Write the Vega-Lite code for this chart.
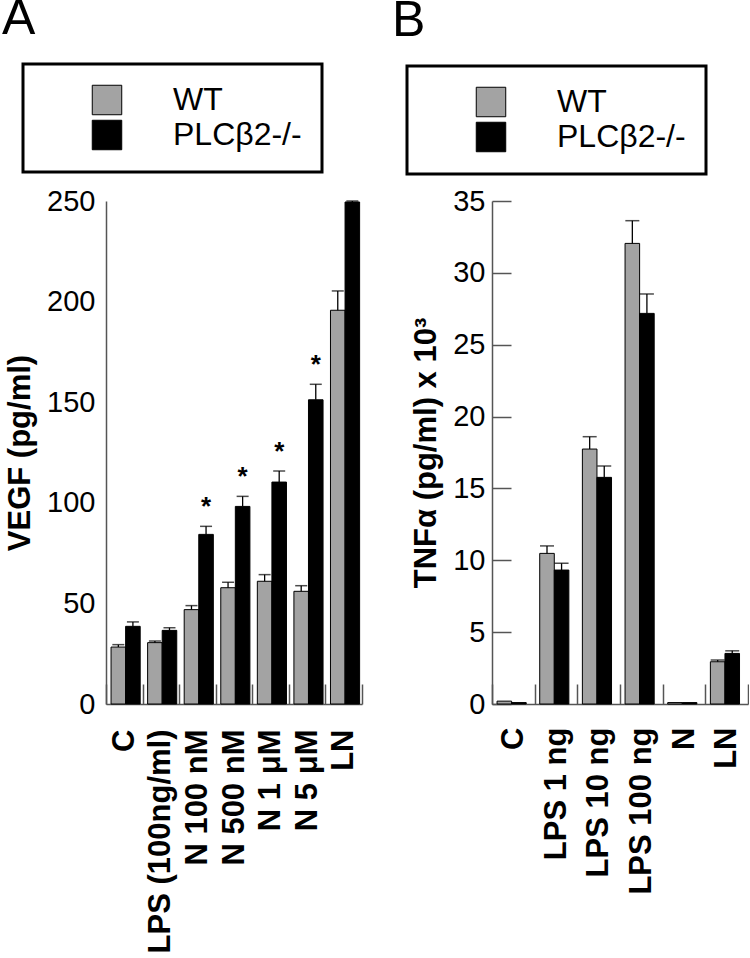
{
  "$schema": "https://vega.github.io/schema/vega-lite/v6.json",
  "background": "white",
  "padding": {"left": 2, "top": -7, "right": 0, "bottom": 0},
  "spacing": 29,
  "config": {
    "font": "Liberation Sans",
    "view": {"stroke": null},
    "axis": {"domainColor": "#555555", "tickColor": "#555555", "labelColor": "black", "titleColor": "black", "grid": false, "labelFont": "Liberation Sans", "titleFont": "Liberation Sans", "domainWidth": 1.5, "tickWidth": 1.5},
    "legend": {"title": null, "symbolType": "square", "symbolSize": 870, "symbolStrokeColor": "black", "symbolStrokeWidth": 1, "labelFontSize": 32, "labelFont": "Liberation Sans", "labelColor": "black", "labelOffset": 50, "symbolOffset": 48, "padding": 20, "rowPadding": 1, "strokeColor": "black", "strokeWidth": 3, "labelLimit": 300},
    "title": {"font": "Liberation Sans", "fontSize": 50, "fontWeight": "normal", "anchor": "start", "frame": "group", "color": "black"}
  },
  "resolve": {"scale": {"color": "independent"}, "legend": {"color": "independent"}},
  "hconcat": [
    {
      "width": 256,
      "height": 503,
      "title": {"text": "A", "dx": -104, "offset": 19},
      "data": {"values": [
        {"treatment": "C", "genotype": "WT", "value": 28.3, "err": 29.5, "sig": false},
        {"treatment": "C", "genotype": "PLCβ2-/-", "value": 38.6, "err": 40.8, "sig": false},
        {"treatment": "LPS (100ng/ml)", "genotype": "WT", "value": 30.5, "err": 31.3, "sig": false},
        {"treatment": "LPS (100ng/ml)", "genotype": "PLCβ2-/-", "value": 36.6, "err": 37.9, "sig": false},
        {"treatment": "N 100 nM", "genotype": "WT", "value": 46.9, "err": 48.9, "sig": false},
        {"treatment": "N 100 nM", "genotype": "PLCβ2-/-", "value": 84.3, "err": 88.3, "sig": true},
        {"treatment": "N 500 nM", "genotype": "WT", "value": 57.8, "err": 60.5, "sig": false},
        {"treatment": "N 500 nM", "genotype": "PLCβ2-/-", "value": 98.2, "err": 103.2, "sig": true},
        {"treatment": "N 1 μM", "genotype": "WT", "value": 61.0, "err": 64.3, "sig": false},
        {"treatment": "N 1 μM", "genotype": "PLCβ2-/-", "value": 110.3, "err": 115.8, "sig": true},
        {"treatment": "N 5 μM", "genotype": "WT", "value": 56.0, "err": 58.8, "sig": false},
        {"treatment": "N 5 μM", "genotype": "PLCβ2-/-", "value": 151.2, "err": 158.9, "sig": true},
        {"treatment": "LN", "genotype": "WT", "value": 195.7, "err": 205.3, "sig": false},
        {"treatment": "LN", "genotype": "PLCβ2-/-", "value": 249.5, "err": 250, "sig": false}
      ]},
      "encoding": {
        "x": {"field": "treatment", "type": "nominal", "sort": ["C", "LPS (100ng/ml)", "N 100 nM", "N 500 nM", "N 1 μM", "N 5 μM", "LN"],
          "scale": {"paddingInner": 0, "paddingOuter": 0},
          "axis": {"title": null, "labelAngle": -90, "labelFontSize": 31, "labelFontWeight": "bold", "labelLimit": 400, "tickSize": -20, "tickBand": "extent", "labelPadding": 45}},
        "xOffset": {"field": "genotype", "type": "nominal", "sort": ["WT", "PLCβ2-/-"], "scale": {"paddingInner": 0, "paddingOuter": 0.255, "align": 0.68}}
      },
      "layer": [
        {
          "mark": {"type": "bar", "stroke": "black", "strokeWidth": 1},
          "encoding": {
            "y": {"field": "value", "type": "quantitative", "scale": {"domain": [0, 250], "nice": false},
              "axis": {"title": "VEGF (pg/ml)", "titleFontSize": 31, "titleFontWeight": "bold", "titlePadding": 10, "values": [0, 50, 100, 150, 200, 250], "ticks": false, "labelFontSize": 29, "labelPadding": 11}},
            "color": {"field": "genotype", "type": "nominal", "sort": ["WT", "PLCβ2-/-"],
              "scale": {"domain": ["WT", "PLCβ2-/-"], "range": ["#a3a3a3", "#000000"]},
              "legend": {"orient": "none", "legendX": -83, "legendY": -137}}
          }
        },
        {
          "mark": {"type": "rule", "color": "black", "strokeWidth": 1.3},
          "encoding": {"y": {"field": "value", "type": "quantitative"}, "y2": {"field": "err"}}
        },
        {
          "mark": {"type": "tick", "color": "black", "thickness": 1.5, "size": 12},
          "encoding": {"y": {"field": "err", "type": "quantitative"}}
        },
        {
          "transform": [{"filter": "datum.sig"}],
          "mark": {"type": "text", "text": "*", "fontSize": 26, "fontWeight": "bold", "baseline": "alphabetic", "dy": -11, "color": "black"},
          "encoding": {"y": {"field": "err", "type": "quantitative"}}
        }
      ]
    },
    {
      "width": 256,
      "height": 503,
      "title": {"text": "B", "dx": -100, "offset": 19},
      "data": {"values": [
        {"treatment": "C", "genotype": "WT", "value": 0.2, "err": null},
        {"treatment": "C", "genotype": "PLCβ2-/-", "value": 0.1, "err": null},
        {"treatment": "LPS 1 ng", "genotype": "WT", "value": 10.48, "err": 11.0},
        {"treatment": "LPS 1 ng", "genotype": "PLCβ2-/-", "value": 9.32, "err": 9.79},
        {"treatment": "LPS 10 ng", "genotype": "WT", "value": 17.74, "err": 18.6},
        {"treatment": "LPS 10 ng", "genotype": "PLCβ2-/-", "value": 15.77, "err": 16.56},
        {"treatment": "LPS 100 ng", "genotype": "WT", "value": 32.05, "err": 33.63},
        {"treatment": "LPS 100 ng", "genotype": "PLCβ2-/-", "value": 27.18, "err": 28.53},
        {"treatment": "N", "genotype": "WT", "value": 0.1, "err": null},
        {"treatment": "N", "genotype": "PLCβ2-/-", "value": 0.1, "err": null},
        {"treatment": "LN", "genotype": "WT", "value": 2.94, "err": 3.06},
        {"treatment": "LN", "genotype": "PLCβ2-/-", "value": 3.52, "err": 3.7}
      ]},
      "encoding": {
        "x": {"field": "treatment", "type": "nominal", "sort": ["C", "LPS 1 ng", "LPS 10 ng", "LPS 100 ng", "N", "LN"],
          "scale": {"paddingInner": 0, "paddingOuter": 0},
          "axis": {"title": null, "labelAngle": -90, "labelFontSize": 31, "labelFontWeight": "bold", "labelLimit": 400, "tickSize": -20, "tickBand": "extent", "labelPadding": 43}},
        "xOffset": {"field": "genotype", "type": "nominal", "sort": ["WT", "PLCβ2-/-"], "scale": {"paddingInner": 0, "paddingOuter": 0.247, "align": 0.5}}
      },
      "layer": [
        {
          "mark": {"type": "bar", "stroke": "black", "strokeWidth": 1},
          "encoding": {
            "y": {"field": "value", "type": "quantitative", "scale": {"domain": [0, 35], "nice": false},
              "axis": {"title": "TNFα (pg/ml) x 10³", "titleFontSize": 31, "titleFontWeight": "bold", "titlePadding": 10, "values": [0, 5, 10, 15, 20, 25, 30, 35], "tickSize": -19, "labelFontSize": 29, "labelPadding": 26}},
            "color": {"field": "genotype", "type": "nominal", "sort": ["WT", "PLCβ2-/-"],
              "scale": {"domain": ["WT", "PLCβ2-/-"], "range": ["#a3a3a3", "#000000"]},
              "legend": {"orient": "none", "legendX": -85, "legendY": -135}}
          }
        },
        {
          "transform": [{"filter": "isValid(datum.err)"}],
          "mark": {"type": "rule", "color": "black", "strokeWidth": 1.3},
          "encoding": {"y": {"field": "value", "type": "quantitative"}, "y2": {"field": "err"}}
        },
        {
          "transform": [{"filter": "isValid(datum.err)"}],
          "mark": {"type": "tick", "color": "black", "thickness": 1.5, "size": 14},
          "encoding": {"y": {"field": "err", "type": "quantitative"}}
        }
      ]
    }
  ]
}
